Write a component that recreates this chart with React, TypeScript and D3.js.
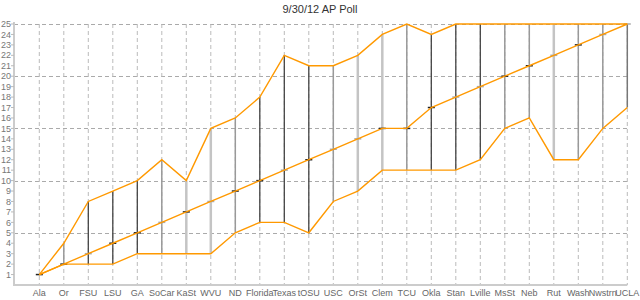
import React from "react";
import * as d3 from "d3";

const teams = ["Ala","Or","FSU","LSU","GA","SoCar","KaSt","WVU","ND","Florida","Texas","tOSU","USC","OrSt","Clem","TCU","Okla","Stan","Lville","MsSt","Neb","Rut","Wash","Nwstrn","UCLA"];
const rank = [1,2,3,4,5,6,7,8,9,10,11,12,13,14,15,15,17,18,19,20,21,22,23,24,25];
const worst = [1,4,8,9,10,12,10,15,16,18,22,21,21,22,24,25,24,25,25,25,25,25,25,25,25];
const best = [1,2,2,2,3,3,3,3,5,6,6,5,8,9,11,11,11,11,12,15,16,12,12,15,17];
// spread group: 0 dark, 1 medium, 2 light, 3 medium-dark
const spreadGroup = [1,1,0,0,0,1,2,2,1,0,0,0,1,2,2,1,0,0,0,1,1,2,1,1,3];
// marker group: 0 dark, 1 gray
const markGroup = [0,0,1,0,0,1,0,1,0,0,1,0,1,1,0,0,0,1,1,0,0,1,0,1,1];
const yTicks = d3.range(1, 26);
const gridY = [5, 10, 15, 20, 25];
const title = "9/30/12 AP Poll";

export default function App() {
  const W = 640, H = 300;
  const x = d3.scalePoint<string>().domain(teams).range([39.3, 627.3]);
  const y = d3.scaleLinear().domain([0, 25]).range([285, 24]);
  const left = 14, right = 627.3;
  const barColor = d3.scaleOrdinal<number, string>().domain([0,1,2,3]).range(["#444","#999","#c4c4c4","#777"]);
  const barWidth = d3.scaleOrdinal<number, number>().domain([0,1,2,3]).range([1.3,1.5,2.5,1.5]);
  const markColor = d3.scaleOrdinal<number, string>().domain([0,1]).range(["#222","#aaa"]);
  const line = d3.line<number>().x((_, i) => x(teams[i])!).y(v => y(v));
  const orange = "#ff9900";
  const font = "Liberation Sans, Arial, Helvetica, sans-serif";

  return (
    <svg width={W} height={H} style={{ position: "absolute", left: 0, top: 0, background: "#fff" }} fontFamily={font}>
      <text x={320} y={13} textAnchor="middle" fontSize={11} fill="#333">{title}</text>
      {gridY.map(v => (
        <line key={"gy" + v} x1={left} x2={right} y1={Math.round(y(v)) + 0.5} y2={Math.round(y(v)) + 0.5}
          stroke="#aaa" strokeDasharray="4,3" strokeWidth={1} />
      ))}
      {teams.map(t => (
        <line key={"gx" + t} x1={x(t)} x2={x(t)} y1={y(25)} y2={y(0)} stroke="#bbb" strokeDasharray="4,3" strokeWidth={1} />
      ))}
      <line x1={left} x2={left} y1={y(25) - 2} y2={y(0) + 1} stroke="#ccc" strokeWidth={2} />
      <line x1={left} x2={right} y1={y(0)} y2={y(0)} stroke="#ccc" strokeWidth={2} />
      {yTicks.map(v => (
        <g key={"yt" + v}>
          <line x1={left - 3} x2={left} y1={y(v)} y2={y(v)} stroke="#bbb" strokeWidth={1} />
          <text x={left - 3} y={y(v)} dy="0.35em" textAnchor="end" fontSize={9} fill="#777">{v}</text>
        </g>
      ))}
      {teams.map(t => (
        <text key={"xl" + t} x={x(t)} y={296} textAnchor="middle" fontSize={9} fill="#666">{t}</text>
      ))}
      {teams.map((t, i) => worst[i] > best[i] ? (
        <line key={"b" + t} x1={x(t)} x2={x(t)} y1={y(worst[i])} y2={y(best[i])}
          stroke={barColor(spreadGroup[i])} strokeWidth={barWidth(spreadGroup[i])} />
      ) : null)}
      {teams.map((t, i) => (
        <line key={"m" + t} x1={x(t)! - 3.5} x2={x(t)! + 3.5} y1={y(rank[i])} y2={y(rank[i])}
          stroke={markColor(markGroup[i])} strokeWidth={1.5} />
      ))}
      <path d={line(worst) || ""} fill="none" stroke={orange} strokeWidth={1.4} />
      <path d={line(best) || ""} fill="none" stroke={orange} strokeWidth={1.4} />
      <path d={line(rank) || ""} fill="none" stroke={orange} strokeWidth={1.4} />
    </svg>
  );
}
